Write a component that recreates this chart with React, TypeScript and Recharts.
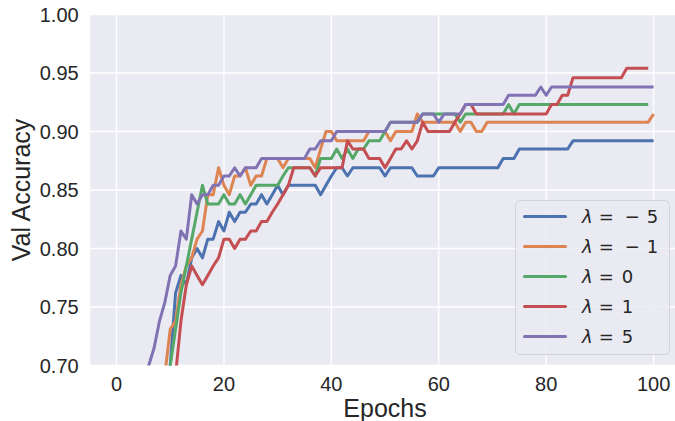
import React from 'react';
import { LineChart, Line, XAxis, YAxis, CartesianGrid } from 'recharts';

// validation accuracy per epoch (0..100), one array per lambda
const epochs = Array.from({ length: 101 }, (_, i) => i);

const accLamM5 = [
  0.31, 0.42, 0.49, 0.53, 0.57, 0.6, 0.62, 0.64, 0.655, 0.67,
  0.7, 0.762, 0.777, 0.769, 0.792, 0.8, 0.792, 0.808, 0.808, 0.823,
  0.815, 0.831, 0.823, 0.831, 0.831, 0.838, 0.838, 0.846, 0.838, 0.846,
  0.854, 0.846, 0.854, 0.854, 0.854, 0.854, 0.854, 0.854, 0.846, 0.854,
  0.862, 0.869, 0.869, 0.862, 0.869, 0.869, 0.869, 0.869, 0.869, 0.869,
  0.862, 0.869, 0.869, 0.869, 0.869, 0.869, 0.862, 0.862, 0.862, 0.862,
  0.869, 0.869, 0.869, 0.869, 0.869, 0.869, 0.869, 0.869, 0.869, 0.869,
  0.869, 0.869, 0.877, 0.877, 0.877, 0.885, 0.885, 0.885, 0.885, 0.885,
  0.885, 0.885, 0.885, 0.885, 0.885, 0.892, 0.892, 0.892, 0.892, 0.892,
  0.892, 0.892, 0.892, 0.892, 0.892, 0.892, 0.892, 0.892, 0.892, 0.892,
  0.892,
];

const accLamM1 = [
  0.28, 0.38, 0.45, 0.5, 0.54, 0.57, 0.6, 0.62, 0.645, 0.692,
  0.731, 0.738, 0.769, 0.785, 0.792, 0.808, 0.815, 0.846, 0.846, 0.869,
  0.854, 0.846, 0.862, 0.862, 0.869, 0.854, 0.862, 0.862, 0.877, 0.877,
  0.877, 0.869, 0.877, 0.877, 0.877, 0.877, 0.877, 0.869, 0.885, 0.9,
  0.9, 0.892, 0.892, 0.892, 0.892, 0.892, 0.892, 0.9, 0.9, 0.9,
  0.9, 0.892, 0.9, 0.9, 0.9, 0.9, 0.915, 0.908, 0.908, 0.908,
  0.908, 0.908, 0.908, 0.908, 0.9, 0.908, 0.908, 0.9, 0.9, 0.908,
  0.908, 0.908, 0.908, 0.908, 0.908, 0.908, 0.908, 0.908, 0.908, 0.908,
  0.908, 0.908, 0.908, 0.908, 0.908, 0.908, 0.908, 0.908, 0.908, 0.908,
  0.908, 0.908, 0.908, 0.908, 0.908, 0.908, 0.908, 0.908, 0.908, 0.908,
  0.915,
];

const accLam0 = [
  0.3, 0.4, 0.47, 0.52, 0.55, 0.58, 0.605, 0.625, 0.645, 0.665,
  0.7, 0.731, 0.762, 0.785, 0.808, 0.831, 0.854, 0.838, 0.838, 0.838,
  0.846, 0.838, 0.838, 0.846, 0.838, 0.846, 0.854, 0.854, 0.854, 0.854,
  0.854, 0.862, 0.869, 0.869, 0.869, 0.869, 0.869, 0.862, 0.877, 0.877,
  0.877, 0.885, 0.877, 0.885, 0.877, 0.885, 0.885, 0.892, 0.892, 0.892,
  0.9, 0.908, 0.908, 0.908, 0.908, 0.908, 0.908, 0.915, 0.915, 0.915,
  0.915, 0.915, 0.915, 0.915, 0.908, 0.915, 0.915, 0.915, 0.915, 0.915,
  0.915, 0.915, 0.915, 0.923, 0.915, 0.923, 0.923, 0.923, 0.923, 0.923,
  0.923, 0.923, 0.923, 0.923, 0.923, 0.923, 0.923, 0.923, 0.923, 0.923,
  0.923, 0.923, 0.923, 0.923, 0.923, 0.923, 0.923, 0.923, 0.923, 0.923,
  null,
];

const accLam1 = [
  0.25, 0.35, 0.42, 0.47, 0.51, 0.54, 0.57, 0.59, 0.615, 0.64,
  0.665, 0.692, 0.738, 0.769, 0.785, 0.777, 0.769, 0.777, 0.785, 0.792,
  0.808, 0.808, 0.8, 0.808, 0.808, 0.815, 0.815, 0.823, 0.823, 0.831,
  0.838, 0.846, 0.854, 0.869, 0.869, 0.869, 0.869, 0.862, 0.869, 0.869,
  0.869, 0.869, 0.869, 0.892, 0.885, 0.885, 0.885, 0.877, 0.877, 0.877,
  0.869, 0.877, 0.885, 0.885, 0.892, 0.885, 0.892, 0.908, 0.9, 0.9,
  0.9, 0.9, 0.9, 0.908, 0.915, 0.923, 0.923, 0.915, 0.915, 0.915,
  0.915, 0.915, 0.915, 0.915, 0.915, 0.915, 0.915, 0.915, 0.915, 0.915,
  0.915, 0.923, 0.923, 0.931, 0.931, 0.946, 0.946, 0.946, 0.946, 0.946,
  0.946, 0.946, 0.946, 0.946, 0.946, 0.954, 0.954, 0.954, 0.954, 0.954,
  null,
];

const accLam5 = [
  0.35, 0.45, 0.52, 0.58, 0.62, 0.669, 0.7, 0.715, 0.738, 0.754,
  0.777, 0.785, 0.815, 0.808, 0.846, 0.838, 0.846, 0.846, 0.854, 0.854,
  0.862, 0.862, 0.869, 0.862, 0.869, 0.869, 0.869, 0.877, 0.877, 0.877,
  0.877, 0.877, 0.877, 0.877, 0.877, 0.877, 0.885, 0.885, 0.892, 0.892,
  0.892, 0.9, 0.9, 0.9, 0.9, 0.9, 0.9, 0.9, 0.9, 0.9,
  0.9, 0.908, 0.908, 0.908, 0.908, 0.908, 0.908, 0.915, 0.915, 0.915,
  0.908, 0.915, 0.915, 0.915, 0.915, 0.923, 0.923, 0.923, 0.923, 0.923,
  0.923, 0.923, 0.923, 0.931, 0.931, 0.931, 0.931, 0.931, 0.931, 0.938,
  0.931, 0.938, 0.938, 0.938, 0.938, 0.938, 0.938, 0.938, 0.938, 0.938,
  0.938, 0.938, 0.938, 0.938, 0.938, 0.938, 0.938, 0.938, 0.938, 0.938,
  0.938,
];

const seriesKeys = ['m5', 'm1', 'z0', 'p1', 'p5'];
const lambdaValues = ['−5', '−1', '0', '1', '5'];
const seriesColors = ['#4C72B0', '#DD8452', '#55A868', '#C44E52', '#8172B3'];
const seriesValues = [accLamM5, accLamM1, accLam0, accLam1, accLam5];

const xTicks = [0, 20, 40, 60, 80, 100];
const yTicks = [0.7, 0.75, 0.8, 0.85, 0.9, 0.95, 1.0];

const data = epochs.map((e, i) => {
  const row: any = { epoch: e };
  seriesKeys.forEach((k, s) => {
    row[k] = seriesValues[s][i];
  });
  return row;
});

const FONT = '"Liberation Sans", Arial, sans-serif';
const INK = '#262626';

// mathtext-like "λ = −5": spaced binary minus, italic lambda
function LambdaLabel({ value }: { value: string }) {
  const neg = value.startsWith('−');
  return (
    <span style={{ fontFamily: '"DejaVu Sans", sans-serif', fontSize: 18, color: INK }}>
      <span style={{ fontStyle: 'italic' }}>λ</span>
      <span style={{ margin: neg ? '0 0 0 6px' : '0 8px 0 6px' }}>=</span>
      {neg ? (
        <>
          <span style={{ marginLeft: 11 }}>−</span>
          <span style={{ marginLeft: 7 }}>{value.slice(1)}</span>
        </>
      ) : (
        <span>{value}</span>
      )}
    </span>
  );
}

function LegendBox() {
  return (
    <div
      style={{
        position: 'absolute',
        left: 515,
        top: 200,
        boxSizing: 'border-box',
        width: 155,
        height: 155,
        background: 'rgba(234,234,242,0.85)',
        border: '1px solid #D3D3D9',
        borderRadius: 5,
        padding: '0 0 0 7px',
      }}
    >
      {lambdaValues.map((v, i) => (
        <div key={v} style={{ display: 'flex', alignItems: 'center', height: 30 }}>
          <span
            style={{
              display: 'inline-block',
              width: 44,
              height: 3,
              borderRadius: 2,
              background: seriesColors[i],
              marginRight: 15,
            }}
          />
          <LambdaLabel value={v} />
        </div>
      ))}
    </div>
  );
}

export default function App() {
  return (
    <div
      style={{
        position: 'absolute',
        left: 0,
        top: 0,
        width: 675,
        height: 421,
        overflow: 'hidden',
        background: '#ffffff',
      }}
    >
      <LineChart
        width={681}
        height={421}
        data={data}
        margin={{ top: 14.5, right: 0.55, left: 9.65, bottom: 0 }}
      >
        <CartesianGrid fill="#EAEAF2" stroke="#ffffff" strokeWidth={1.3} />
        <XAxis
          dataKey="epoch"
          type="number"
          domain={[-5, 105]}
          ticks={xTicks}
          axisLine={false}
          tickLine={false}
          tickSize={0}
          tickMargin={11}
          height={55.5}
          tick={{ fill: INK, fontSize: 20, fontFamily: FONT }}
          label={{
            content: (props: any) => {
              const vb = props.viewBox;
              return (
                <text
                  x={vb.x + vb.width / 2}
                  y={vb.y + vb.height - 4}
                  textAnchor="middle"
                  fill={INK}
                  fontSize={25}
                  fontFamily={FONT}
                >
                  Epochs
                </text>
              );
            },
          }}
        />
        <YAxis
          type="number"
          domain={[0.7, 1.0]}
          ticks={yTicks}
          allowDataOverflow
          axisLine={false}
          tickLine={false}
          tickSize={0}
          tickMargin={11}
          width={80}
          tickFormatter={(v: number) => v.toFixed(2)}
          tick={{ fill: INK, fontSize: 20, fontFamily: FONT }}
          label={{
            content: (props: any) => {
              const vb = props.viewBox;
              const cx = vb.x + 11.5;
              const cy = vb.y + vb.height / 2;
              return (
                <text
                  x={cx}
                  y={cy}
                  transform={`rotate(-90 ${cx} ${cy})`}
                  textAnchor="middle"
                  dominantBaseline="central"
                  fill={INK}
                  fontSize={25}
                  fontFamily={FONT}
                >
                  Val Accuracy
                </text>
              );
            },
          }}
        />
        {seriesKeys.map((k, i) => (
          <Line
            key={k}
            dataKey={k}
            type="linear"
            stroke={seriesColors[i]}
            strokeWidth={3}
            strokeLinejoin="round"
            dot={false}
            activeDot={false}
            isAnimationActive={false}
          />
        ))}
      </LineChart>
      <LegendBox />
    </div>
  );
}
